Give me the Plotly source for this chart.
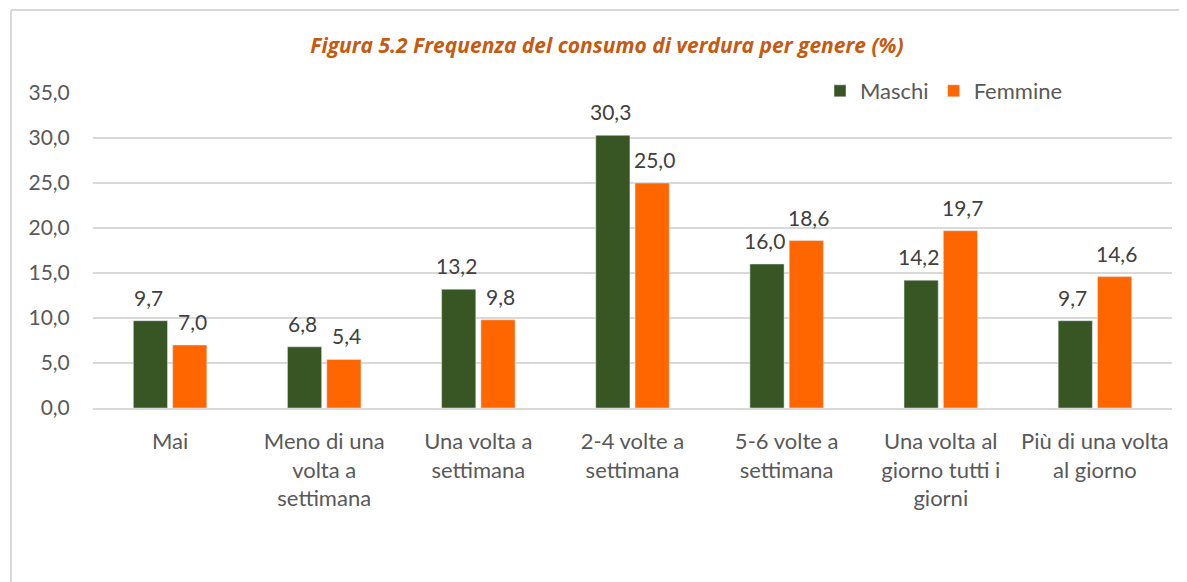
import plotly.graph_objects as go

categories = [
    "Mai",
    "Meno di una<br>volta a<br>settimana",
    "Una volta a<br>settimana",
    "2-4 volte a<br>settimana",
    "5-6 volte a<br>settimana",
    "Una volta al<br>giorno tutti i<br>giorni",
    "Più di una volta<br>al giorno",
]
maschi = [9.7, 6.8, 13.2, 30.3, 16.0, 14.2, 9.7]
femmine = [7.0, 5.4, 9.8, 25.0, 18.6, 19.7, 14.6]
y_ticks = [0, 5, 10, 15, 20, 25, 30, 35]

# the page body adds an 8px margin, so lay everything out 8px up/left
OFF = 8
W, H = 1187 - OFF, 582 - OFF
ML, MT = 93 - OFF, 93 - OFF
PW, PH = 1079, 315
MR, MB = W - ML - PW, H - MT - PH


def px_x(px):
    return (px - OFF - ML) / PW


def px_y(py):
    return (H - MB - (py - OFF)) / PH


FONT = "Lato"
SIZE = 21
GREY = "#595959"


def fmt(v):
    return f"{v:.1f}".replace(".", ",")


fig = go.Figure()
fig.add_trace(go.Bar(name="Maschi", x=categories, y=maschi, marker_color="#375623"))
fig.add_trace(go.Bar(name="Femmine", x=categories, y=femmine, marker_color="#FF6600"))

# data labels, sitting a bit higher above the bars than plotly's own outside text
annotations = []
for series, shift in ((maschi, -22), (femmine, 22)):
    for cat, v in zip(categories, series):
        annotations.append(dict(
            x=cat, y=v, text=fmt(v), showarrow=False,
            xanchor="center", yanchor="bottom", xshift=shift, yshift=9,
            font=dict(family=FONT, size=SIZE, color="#404040"),
        ))

# chart-area border (left and top edges visible in the crop)
shapes = [
    dict(type="line", xref="paper", yref="paper",
         x0=px_x(11), x1=px_x(11), y0=px_y(10), y1=px_y(600),
         line=dict(color="#d9d9d9", width=2)),
    dict(type="line", xref="paper", yref="paper",
         x0=px_x(11), x1=px_x(1200), y0=px_y(10), y1=px_y(10),
         line=dict(color="#d9d9d9", width=2)),
]

fig.update_layout(
    width=W, height=H,
    margin=dict(l=ML, r=MR, t=MT, b=MB),
    paper_bgcolor="white", plot_bgcolor="white",
    separators=",.",
    barmode="group", bargap=0.49, bargroupgap=0.13,
    font=dict(family=FONT, size=SIZE, color=GREY),
    annotations=annotations,
    shapes=shapes,
    title=dict(
        text="<b><i>Figura 5.2 Frequenza del consumo di verdura per genere (%)</i></b>",
        x=(607 - OFF) / W, xanchor="center", y=1 - (46 - OFF) / H, yanchor="middle",
        font=dict(family="Open Sans", size=21, color="#C55A11"),
    ),
    legend=dict(
        orientation="h", x=px_x(820), xanchor="left",
        y=px_y(91), yanchor="middle",
        font=dict(family=FONT, size=22, color=GREY),
        bgcolor="rgba(0,0,0,0)", itemwidth=30,
    ),
    xaxis=dict(
        showline=True, linecolor="#d9d9d9", linewidth=1.5,
        tickfont=dict(family=FONT, size=22, color=GREY),
        ticks="outside", ticklen=13, tickcolor="rgba(0,0,0,0)",
    ),
    yaxis=dict(
        range=[0, 35], tickvals=y_ticks, tickformat=".1f",
        showgrid=True, gridcolor="#d9d9d9", gridwidth=1.5,
        zeroline=False, ticks="outside", ticklen=18, tickcolor="rgba(0,0,0,0)",
        tickfont=dict(family=FONT, size=SIZE, color=GREY),
    ),
)

fig.write_html("out.html")
